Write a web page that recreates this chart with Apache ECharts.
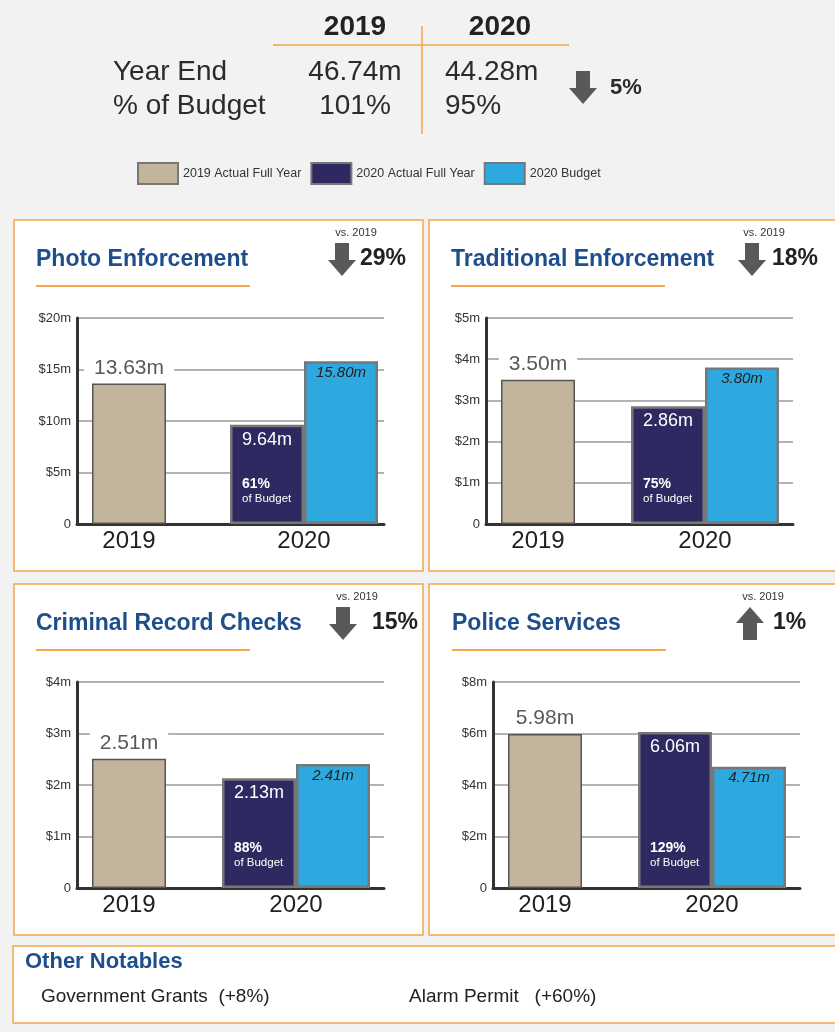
<!DOCTYPE html>
<html>
<head>
<meta charset="utf-8">
<title>Year End Summary</title>
<script src="https://cdn.jsdelivr.net/npm/echarts@6/dist/echarts.min.js"></script>
<style>
html, body { margin: 0; padding: 0; background: #f2f2f2; }
#main { width: 835px; height: 1032px; }
</style>
</head>
<body>
<div id="main"></div>
<script>
var years = ['2019', '2020'];
var seriesNames = ['2019 Actual Full Year', '2020 Actual Full Year', '2020 Budget'];
var panelTitles = ['Photo Enforcement', 'Traditional Enforcement', 'Criminal Record Checks', 'Police Services'];
var actual2019 = [13.63, 3.50, 2.51, 5.98];
var actual2020 = [9.64, 2.86, 2.13, 6.06];
var budget2020 = [15.80, 3.80, 2.41, 4.71];
var pctOfBudget = [61, 75, 88, 129];
var vs2019 = [-29, -18, -15, 1];
var axisMax = [20, 5, 4, 8];
var axisStep = [5, 1, 1, 2];
var yearEnd = [46.74, 44.28];
var yearPctBudget = [101, 95];
var yearChange = -5;
var notables = ['Government Grants  (+8%)', 'Alarm Permit   (+60%)'];

var FONT = '"Liberation Sans", Arial, sans-serif';
var ORANGE = '#f5a54a';
var BLUE = '#1f4e8c';
var BAR_W = 74;

// panel frames and where the axes sit inside them
// c1 / c2 = distance from the y axis to the 2019 bar and to the 2020 pair
var layout = [
    {box: [14, 220, 409, 351], ax: 77, top: 318, title: 36, vsX: 356, arrowX: 328, pctX: 360, c1: 52, c2: 227},
    {box: [429, 220, 420, 351], ax: 486, top: 318, title: 451, vsX: 764, arrowX: 738, pctX: 772, c1: 52, c2: 219},
    {box: [14, 584, 409, 351], ax: 77, top: 682, title: 36, vsX: 357, arrowX: 329, pctX: 372, c1: 52, c2: 219},
    {box: [429, 584, 420, 351], ax: 493, top: 682, title: 452, vsX: 763, arrowX: 736, pctX: 773, c1: 52, c2: 219}
];

var chart = echarts.init(document.getElementById('main'));
var grids = [], xAxes = [], yAxes = [], series = [], graphics = [];

var arrow = function(x, y, up) {
    var pts = [[7, 0], [21, 0], [21, 17], [28, 17], [14, 33], [0, 17], [7, 17]];
    return {
        type: 'polygon', z: 10,
        shape: {points: pts.map(function(p) { return [x + p[0], y + (up ? 33 - p[1] : p[1])]; })},
        style: {fill: '#58595b'}
    };
};
var txt = function(x, y, text, size, opts) {
    opts = opts || {};
    return {
        type: 'text', x: x, y: y, z: 10,
        style: {
            text: text, fill: opts.color || '#2b2b2b', fontSize: size, fontFamily: FONT,
            fontWeight: opts.weight || 'normal', fontStyle: opts.style || 'normal',
            align: opts.align || 'left', verticalAlign: 'middle'
        }
    };
};
var hline = function(x1, y1, x2, y2, w) {
    return {type: 'line', z: 10, shape: {x1: x1, y1: y1, x2: x2, y2: y2}, style: {stroke: ORANGE, lineWidth: w || 1.5}};
};

var renderPct = function(params, api) {
    var p = api.coord([api.value(0), 0]);
    var x = p[0] - BAR_W + 12;
    return {
        type: 'group',
        children: [
            {type: 'text', x: x, y: p[1] - 40, style: {text: api.value(2) + '%', fill: '#fff', fontSize: 14, fontWeight: 'bold', fontFamily: FONT, verticalAlign: 'middle'}},
            {type: 'text', x: x, y: p[1] - 25, style: {text: 'of Budget', fill: '#fff', fontSize: 11.5, fontFamily: FONT, verticalAlign: 'middle'}}
        ]
    };
};

// header
graphics.push(txt(355, 27, years[0], 28, {weight: 'bold', align: 'center', color: '#222'}));
graphics.push(txt(500, 27, years[1], 28, {weight: 'bold', align: 'center', color: '#222'}));
graphics.push(hline(273, 45, 569, 45));
graphics.push(hline(422, 26, 422, 134));
graphics.push(txt(113, 72, 'Year End', 28));
graphics.push(txt(113, 106, '% of Budget', 28));
graphics.push(txt(355, 72, yearEnd[0].toFixed(2) + 'm', 28, {align: 'center'}));
graphics.push(txt(445, 72, yearEnd[1].toFixed(2) + 'm', 28));
graphics.push(txt(355, 106, yearPctBudget[0] + '%', 28, {align: 'center'}));
graphics.push(txt(445, 106, yearPctBudget[1] + '%', 28));
graphics.push(arrow(569, 71, yearChange > 0));
graphics.push(txt(610, 88, Math.abs(yearChange) + '%', 22, {weight: 'bold'}));

// bottom box
graphics.push({type: 'rect', z: -10, shape: {x: 13, y: 946, width: 830, height: 77}, style: {fill: '#fff', stroke: ORANGE, lineWidth: 1.5}});
graphics.push(txt(25, 962, 'Other Notables', 22, {weight: 'bold', color: BLUE}));
graphics.push(txt(41, 997, notables[0], 19, {color: '#222'}));
graphics.push(txt(409, 997, notables[1], 19, {color: '#222'}));

panelTitles.forEach(function(title, i) {
    var L = layout[i], bx = L.box;
    graphics.push({type: 'rect', z: -10, shape: {x: bx[0], y: bx[1], width: bx[2], height: bx[3]}, style: {fill: '#fff', stroke: ORANGE, lineWidth: 1.5}});
    graphics.push(txt(L.title, bx[1] + 40, title, 23, {weight: 'bold', color: BLUE}));
    graphics.push(hline(L.title, bx[1] + 66, L.title + 214, bx[1] + 66, 2));
    graphics.push(txt(L.vsX, bx[1] + 13, 'vs. ' + years[0], 11, {align: 'center', color: '#333'}));
    graphics.push(arrow(L.arrowX, bx[1] + 23, vs2019[i] > 0));
    graphics.push(txt(L.pctX, bx[1] + 39, Math.abs(vs2019[i]) + '%', 23, {weight: 'bold', color: '#222'}));

    var g = grids.length, xa = xAxes.length, ya = yAxes.length;
    var band = L.c2 - L.c1;
    grids.push({left: L.ax, top: L.top, width: 307, height: 206});
    grids.push({left: L.ax + L.c1 - band / 2, top: L.top, width: band * 2, height: 206});

    xAxes.push({
        gridIndex: g, type: 'value', min: 0, max: 1,
        axisLine: {show: true, lineStyle: {color: '#333', width: 3}},
        axisTick: {show: false}, axisLabel: {show: false}, splitLine: {show: false}
    });
    xAxes.push({
        gridIndex: g + 1, type: 'category', data: years,
        axisLine: {show: false}, axisTick: {show: false},
        axisLabel: {color: '#222', fontSize: 24, margin: 5, fontFamily: FONT}
    });
    xAxes.push({gridIndex: g + 1, type: 'category', data: years, show: false});

    yAxes.push({
        gridIndex: g, type: 'value', min: 0, max: axisMax[i], interval: axisStep[i],
        axisLine: {show: true, lineStyle: {color: '#333', width: 3}},
        axisTick: {show: false},
        axisLabel: {
            color: '#333', fontSize: 13, margin: 6, fontFamily: FONT,
            formatter: function(v) { return v === 0 ? '0' : '$' + v + 'm'; }
        },
        splitLine: {lineStyle: {color: '#999', width: 1.5}}
    });
    yAxes.push({gridIndex: g + 1, type: 'value', min: 0, max: axisMax[i], show: false});

    series.push({
        name: seriesNames[0], type: 'bar', xAxisIndex: xa + 2, yAxisIndex: ya + 1,
        barWidth: BAR_W, data: [actual2019[i], '-'],
        itemStyle: {color: '#c3b59b', borderColor: '#555', borderWidth: 1.5},
        label: {
            show: true, position: 'top', distance: 4, color: '#595959', fontSize: 21, fontFamily: FONT,
            backgroundColor: '#fff', padding: [1, 10],
            formatter: function(p) { return p.value.toFixed(2) + 'm'; }
        }
    });
    series.push({
        name: seriesNames[1], type: 'bar', xAxisIndex: xa + 1, yAxisIndex: ya + 1,
        barWidth: BAR_W, barGap: 0, data: ['-', actual2020[i]],
        itemStyle: {color: '#2e2a61', borderColor: '#777', borderWidth: 2.5},
        label: {
            show: true, position: 'insideTop', distance: 6, color: '#fff', fontSize: 18, fontFamily: FONT,
            formatter: function(p) { return p.value.toFixed(2) + 'm'; }
        }
    });
    series.push({
        name: seriesNames[2], type: 'bar', xAxisIndex: xa + 1, yAxisIndex: ya + 1,
        barWidth: BAR_W, barGap: 0, data: ['-', budget2020[i]],
        itemStyle: {color: '#2ea9df', borderColor: '#777', borderWidth: 2.5},
        label: {
            show: true, position: 'insideTop', distance: 4, color: '#222', fontSize: 15, fontStyle: 'italic', fontFamily: FONT,
            formatter: function(p) { return p.value.toFixed(2) + 'm'; }
        }
    });
    series.push({
        name: 'pct', type: 'custom', xAxisIndex: xa + 1, yAxisIndex: ya + 1, z: 5, silent: true,
        data: [[1, 0, pctOfBudget[i]]], encode: {x: 0, y: 1},
        renderItem: renderPct
    });
});

chart.setOption({
    backgroundColor: '#f2f2f2',
    animation: false,
    legend: {
        left: 132, top: 157, itemWidth: 40, itemHeight: 21, itemGap: 9, selectedMode: false,
        textStyle: {fontSize: 12.5, color: '#333', fontFamily: FONT},
        data: seriesNames.map(function(n) {
            return {name: n, icon: 'rect', itemStyle: {borderColor: '#777', borderWidth: 2}};
        })
    },
    grid: grids,
    xAxis: xAxes,
    yAxis: yAxes,
    series: series,
    graphic: {elements: graphics}
});
</script>
</body>
</html>
